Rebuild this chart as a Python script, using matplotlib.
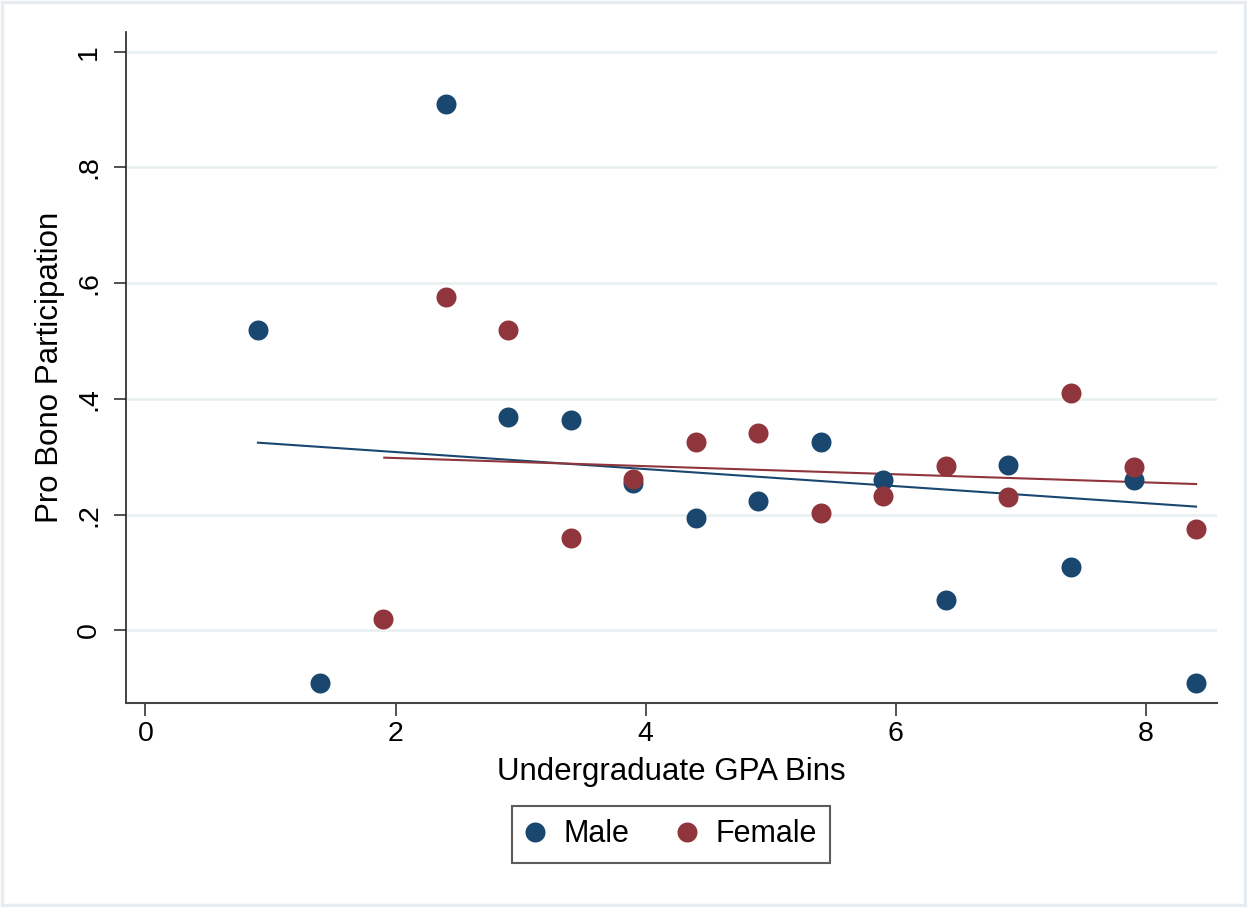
import matplotlib
matplotlib.use("Agg")
import matplotlib.pyplot as plt
from matplotlib.patches import Rectangle

plt.rcParams['font.family'] = ['Liberation Sans', 'DejaVu Sans']

# GPA bin positions and mean pro bono participation
male_x = [0.9, 1.4, 2.4, 2.9, 3.4, 3.9, 4.4, 4.9, 5.4, 5.9, 6.4, 6.9, 7.4, 7.9, 8.4]
male_y = [0.520, -0.091, 0.910, 0.368, 0.364, 0.254, 0.195, 0.223, 0.326, 0.260,
          0.052, 0.286, 0.109, 0.260, -0.091]

female_x = [1.9, 2.4, 2.9, 3.4, 3.9, 4.4, 4.9, 5.4, 5.9, 6.4, 6.9, 7.4, 7.9, 8.4]
female_y = [0.020, 0.577, 0.520, 0.160, 0.261, 0.326, 0.342, 0.203, 0.233, 0.284,
            0.231, 0.410, 0.282, 0.175]

# linear fit lines (endpoints as drawn)
male_fit_x = [0.9, 8.4]
male_fit_y = [0.3245, 0.214]
female_fit_x = [1.91, 8.4]
female_fit_y = [0.2986, 0.253]

y_ticks = [0, 0.2, 0.4, 0.6, 0.8, 1.0]
y_tick_labels = ["0", ".2", ".4", ".6", ".8", "1"]
x_ticks = [0, 2, 4, 6, 8]

NAVY = "#1a476f"
MAROON = "#90353b"
GRID = "#eaf0f2"

fig = plt.figure(figsize=(12.47, 9.07), dpi=100)
ax = fig.add_axes([0.1008, 0.2246, 0.9757 - 0.1008, 0.9647 - 0.2246])

for y in y_ticks:
    ax.axhline(y, color=GRID, lw=2, zorder=0)

male_pts, = ax.plot(male_x, male_y, 'o', color=NAVY, markersize=14.4,
                    markeredgewidth=0, label="Male", zorder=3)
female_pts, = ax.plot(female_x, female_y, 'o', color=MAROON, markersize=14.4,
                      markeredgewidth=0, label="Female", zorder=3)
ax.plot(male_fit_x, male_fit_y, color=NAVY, lw=1.5, zorder=2)
ax.plot(female_fit_x, female_fit_y, color=MAROON, lw=1.5, zorder=2)

ax.set_xlim(-0.157, 8.565)
ax.set_ylim(-0.1258, 1.034)

ax.set_xticks(x_ticks)
ax.set_yticks(y_ticks)
ax.set_yticklabels(y_tick_labels, rotation=90, va='center')
ax.tick_params(axis='both', labelsize=20.5, length=9, width=1.2, color='#333333')
ax.tick_params(axis='x', pad=4)
ax.tick_params(axis='y', pad=8)

for side in ['top', 'right']:
    ax.spines[side].set_visible(False)
ax.spines['left'].set_color('#222222')
ax.spines['bottom'].set_color('#444444')
ax.spines['left'].set_linewidth(1.2)
ax.spines['bottom'].set_linewidth(1.5)

ax.set_xlabel("Undergraduate GPA Bins", fontsize=22.5, labelpad=7)
ax.set_ylabel("Pro Bono Participation", fontsize=22.5, labelpad=8)

leg = fig.legend(handles=[male_pts, female_pts], loc='center',
                 bbox_to_anchor=(671 / 1247, 1 - 834.5 / 907), ncol=2, fontsize=22,
                 frameon=True, fancybox=False, handlelength=0.65, handletextpad=0.6,
                 columnspacing=1.55, borderpad=0.45, borderaxespad=0)
leg.get_frame().set_edgecolor('#333333')
leg.get_frame().set_linewidth(1.5)

fig.add_artist(Rectangle((0.002, 0.002), 0.996, 0.996, transform=fig.transFigure,
                         fill=False, edgecolor='#e6ecef', lw=2.5))

fig.savefig("out.png", dpi=100, facecolor='white')
